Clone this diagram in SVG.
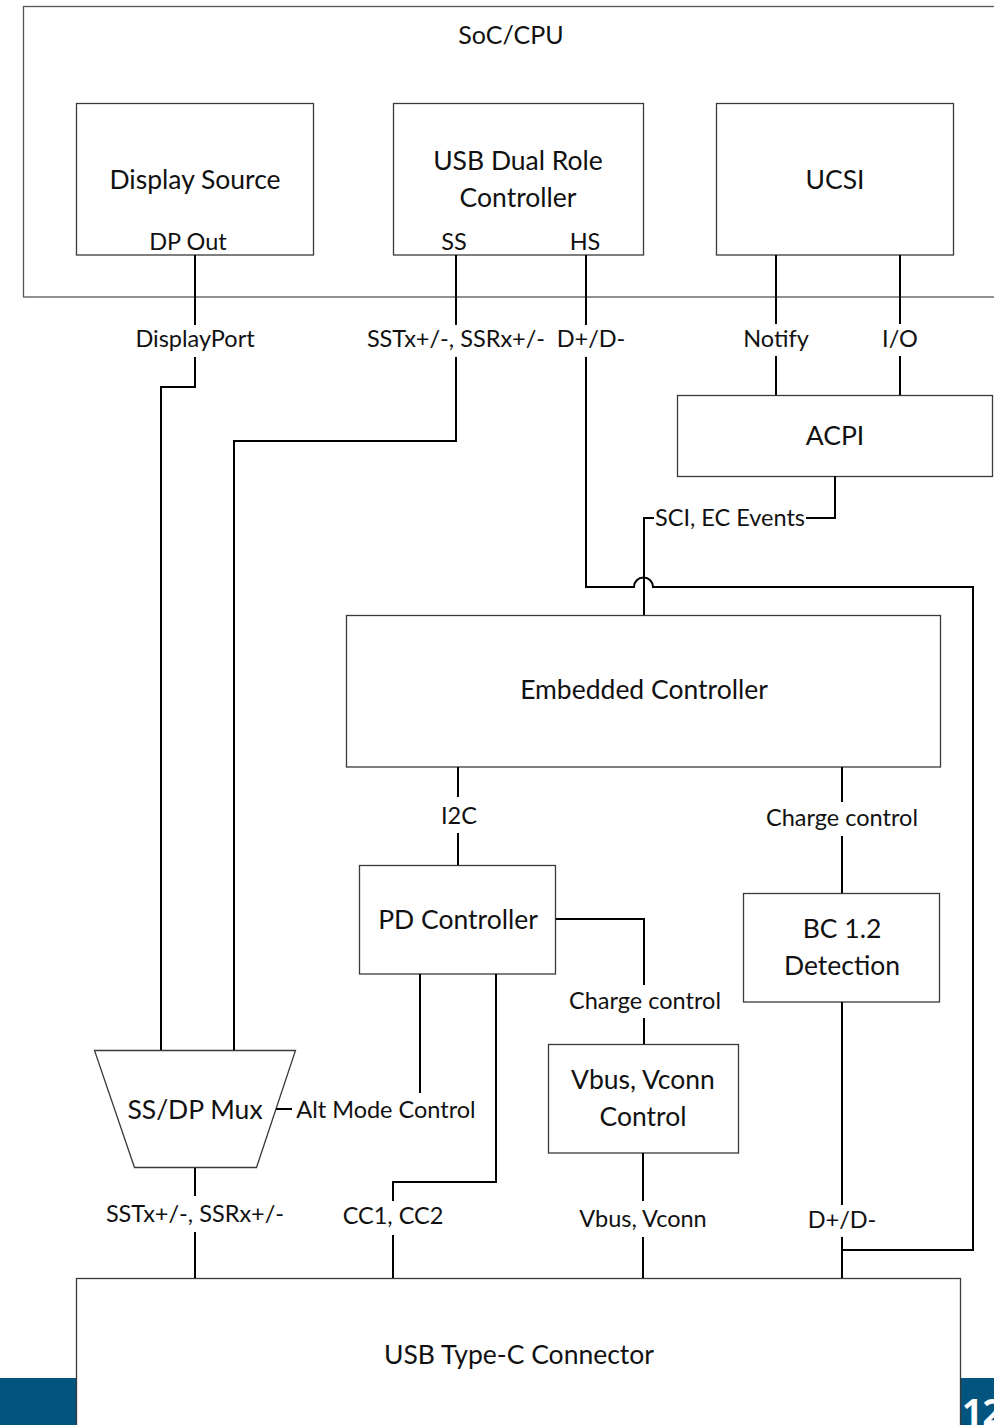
<svg xmlns="http://www.w3.org/2000/svg" width="994" height="1425" viewBox="0 0 994 1425">
  <style>
    .box { fill: #ffffff; stroke: #3a3a3a; stroke-width: 1.3; }
    .wire { fill: none; stroke: #000000; stroke-width: 2; }
    text { font-family: Lato, "Open Sans", sans-serif; font-size: 26.5px; fill: #111111; text-anchor: middle; }
    .lbl { font-size: 23.5px; }
  </style>

  <rect width="994" height="1425" fill="#ffffff"/>

  <!-- footer band with page number -->
  <rect x="0" y="1378" width="994" height="47" fill="#03547e"/>
  <text x="962" y="1425" style="font-family:'Open Sans',sans-serif;font-weight:bold;font-size:36px;fill:#ffffff;text-anchor:start">12</text>

  <g id="soc">
    <rect class="box" x="23.5" y="6.5" width="1000" height="290.5" style="stroke:#555555"/>
    <text x="511" y="44" style="font-size:25px">SoC/CPU</text>
  </g>

  <g id="display-source">
    <rect class="box" x="76.5" y="103.5" width="237" height="151.5"/>
    <text x="195" y="189">Display Source</text>
    <text x="188" y="250" class="lbl">DP Out</text>
  </g>

  <g id="usb-drd">
    <rect class="box" x="393.5" y="103.5" width="250" height="151.5"/>
    <text x="518" y="170">USB Dual Role</text>
    <text x="518" y="207">Controller</text>
    <text x="454" y="250" class="lbl">SS</text>
    <text x="585" y="250" class="lbl">HS</text>
  </g>

  <g id="ucsi">
    <rect class="box" x="716.5" y="103.5" width="237" height="151.5"/>
    <text x="835" y="189">UCSI</text>
  </g>

  <g id="acpi">
    <rect class="box" x="677.5" y="395.5" width="315" height="81"/>
    <text x="835" y="445">ACPI</text>
  </g>

  <g id="ec">
    <rect class="box" x="346.5" y="615.5" width="594" height="151.5"/>
    <text x="644" y="699">Embedded Controller</text>
  </g>

  <g id="pd">
    <rect class="box" x="359.5" y="865.5" width="196" height="108.5"/>
    <text x="458" y="929">PD Controller</text>
  </g>

  <g id="bc12">
    <rect class="box" x="743.5" y="893.5" width="196" height="108.5"/>
    <text x="842" y="938">BC 1.2</text>
    <text x="842" y="975">Detection</text>
  </g>

  <g id="vbus">
    <rect class="box" x="548.5" y="1044.5" width="190" height="108.5"/>
    <text x="643" y="1089">Vbus, Vconn</text>
    <text x="643" y="1126">Control</text>
  </g>

  <g id="mux">
    <polygon class="box" points="94.5,1050.5 295.5,1050.5 256.5,1167.5 134.5,1167.5"/>
    <text x="195" y="1119">SS/DP Mux</text>
  </g>

  <g id="typec">
    <rect class="box" x="76.5" y="1278.5" width="884" height="160"/>
    <text x="519" y="1364">USB Type-C Connector</text>
  </g>

  <g id="connectors">
    <!-- DisplayPort to mux -->
    <path class="wire" d="M195,255 V325"/>
    <path class="wire" d="M195,357 V387 H161 V1050"/>
    <text x="195" y="347" class="lbl">DisplayPort</text>

    <!-- SuperSpeed to mux -->
    <path class="wire" d="M456,255 V325"/>
    <path class="wire" d="M456,357 V441 H234 V1050"/>
    <text x="456" y="347" class="lbl">SSTx+/-, SSRx+/-</text>

    <!-- HighSpeed to connector, hopping over the EC event line -->
    <path class="wire" d="M586,255 V325"/>
    <path class="wire" d="M586,357 V587 H634 A9.5,9.5 0 0 1 653,587 H973 V1250 H842"/>
    <text x="591" y="347" class="lbl">D+/D-</text>

    <!-- UCSI to ACPI -->
    <path class="wire" d="M776,255 V324"/>
    <path class="wire" d="M776,356 V395"/>
    <text x="776" y="347" class="lbl">Notify</text>
    <path class="wire" d="M900,255 V324"/>
    <path class="wire" d="M900,356 V395"/>
    <text x="900" y="347" class="lbl">I/O</text>

    <!-- ACPI to EC -->
    <path class="wire" d="M835,476 V518 H806"/>
    <path class="wire" d="M654,518 H644 V615"/>
    <text x="730" y="526" class="lbl">SCI, EC Events</text>

    <!-- EC to PD controller -->
    <path class="wire" d="M458,767 V797"/>
    <path class="wire" d="M458,833 V865"/>
    <text x="459" y="824" class="lbl">I2C</text>

    <!-- EC to BC 1.2 -->
    <path class="wire" d="M842,767 V802"/>
    <path class="wire" d="M842,836 V893"/>
    <text x="842" y="826" class="lbl">Charge control</text>

    <!-- PD to Vbus/Vconn -->
    <path class="wire" d="M556,919 H644 V985"/>
    <path class="wire" d="M644,1018 V1044"/>
    <text x="645" y="1009" class="lbl">Charge control</text>

    <!-- PD alt mode to mux -->
    <path class="wire" d="M420,974 V1093"/>
    <path class="wire" d="M276,1109 H292"/>
    <text x="386" y="1118" class="lbl">Alt Mode Control</text>

    <!-- PD CC lines -->
    <path class="wire" d="M496,974 V1182 H393 V1201"/>
    <path class="wire" d="M393,1235 V1278"/>
    <text x="393" y="1224" class="lbl">CC1, CC2</text>

    <!-- mux to connector -->
    <path class="wire" d="M195,1168 V1196"/>
    <path class="wire" d="M195,1232 V1278"/>
    <text x="195" y="1222" class="lbl">SSTx+/-, SSRx+/-</text>

    <!-- Vbus to connector -->
    <path class="wire" d="M643,1153 V1201"/>
    <path class="wire" d="M643,1237 V1278"/>
    <text x="643" y="1227" class="lbl">Vbus, Vconn</text>

    <!-- BC 1.2 to connector -->
    <path class="wire" d="M842,1002 V1205"/>
    <path class="wire" d="M842,1237 V1278"/>
    <text x="842" y="1228" class="lbl">D+/D-</text>
  </g>
</svg>
